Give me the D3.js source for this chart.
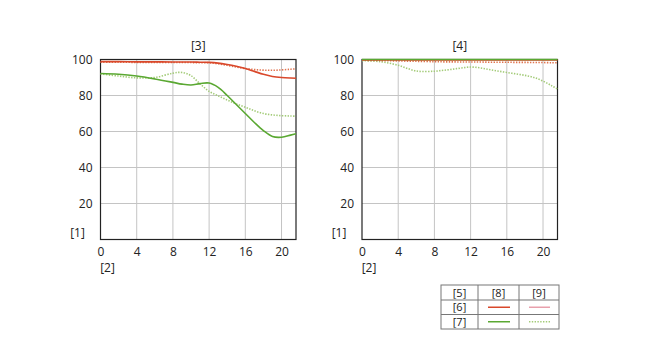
<!DOCTYPE html>
<html>
<head>
<meta charset="utf-8">
<script src="https://cdn.jsdelivr.net/npm/d3@7"></script>
<style>
  body { margin: 0; background: #fff; }
  svg text { font-family: "Open Sans", sans-serif; font-size: 12px; fill: #222; }
</style>
</head>
<body>
<svg id="chart" width="650" height="350"></svg>
<script>
// image height positions (mm)
var field = [0, 2, 4, 6, 8, 9, 10, 11, 12, 13, 14, 15, 16, 17, 18, 19, 20, 21, 21.6];
var xTicks = [0, 4, 8, 12, 16, 20];
var yTicks = [20, 40, 60, 80, 100];

// left panel [3]
var leftRedSolid  = [98.8, 98.8, 98.7, 98.7, 98.6, 98.6, 98.6, 98.5, 98.4, 98.0, 97.2, 96.2, 95.0, 93.4, 91.8, 90.6, 90.0, 89.7, 89.6];
var leftRedDot    = [98.5, 98.5, 98.4, 98.4, 98.3, 98.3, 98.3, 98.2, 98.2, 97.6, 96.8, 95.8, 95.0, 94.4, 94.1, 94.0, 94.2, 94.6, 94.8];
var leftGreenSolid = [92.2, 91.8, 90.8, 89.2, 87.3, 86.3, 85.8, 86.6, 86.9, 84.5, 80.0, 75.0, 70.0, 65.0, 60.5, 57.2, 56.8, 58.0, 58.8];
var leftGreenDot  = [92.0, 90.8, 89.8, 90.0, 92.4, 92.8, 91.0, 86.5, 82.3, 79.8, 77.5, 75.3, 73.5, 71.5, 70.0, 69.2, 68.8, 68.6, 68.5];

// right panel [4]
var rightRedSolid  = [99.7, 99.7, 99.7, 99.7, 99.7, 99.7, 99.7, 99.7, 99.7, 99.7, 99.7, 99.7, 99.7, 99.7, 99.7, 99.7, 99.7, 99.7, 99.7];
var rightRedDot    = [99.6, 99.4, 99.2, 99.0, 98.8, 98.7, 98.7, 98.6, 98.6, 98.6, 98.5, 98.5, 98.5, 98.4, 98.4, 98.3, 98.3, 98.2, 98.2];
var rightGreenSolid = [100, 100, 100, 100, 100, 100, 100, 100, 100, 100, 100, 100, 100, 100, 100, 100, 100, 100, 100];
var rightGreenDot  = [99.4, 98.8, 96.8, 93.6, 93.5, 94.0, 94.6, 95.3, 95.8, 95.4, 94.5, 93.6, 92.8, 92.0, 91.2, 90.0, 88.0, 85.3, 83.6];

var legendRows = ["[6]", "[7]"];
var legendCols = ["[5]", "[8]", "[9]"];

var red = "#d9482b", redDot = "#e0734f", green = "#5aa832", greenDot = "#a3cb78";

var svg = d3.select("#chart");

var panels = [
  { title: "[3]", left: 100.5, series: [
    { v: leftGreenDot, c: greenDot, dash: true },
    { v: leftRedDot, c: redDot, dash: true },
    { v: leftGreenSolid, c: green },
    { v: leftRedSolid, c: red }
  ]},
  { title: "[4]", left: 362, series: [
    { v: rightGreenDot, c: greenDot, dash: true },
    { v: rightRedDot, c: redDot, dash: true },
    { v: rightRedSolid, c: red },
    { v: rightGreenSolid, c: green }
  ]}
];

var W = 195.5, plotTop = 59.5, H = 180;

panels.forEach(function(p) {
  var x = d3.scaleLinear().domain([0, 21.6]).range([p.left, p.left + W]);
  var y = d3.scaleLinear().domain([0, 100]).range([plotTop + H, plotTop]);
  var g = svg.append("g");

  // grid
  g.selectAll(".vg").data(xTicks.slice(1)).enter().append("line")
    .attr("x1", function(d) { return x(d); }).attr("x2", function(d) { return x(d); })
    .attr("y1", plotTop).attr("y2", plotTop + H)
    .attr("stroke", "#c4c4c4").attr("stroke-width", 1);
  g.selectAll(".hg").data(yTicks).enter().append("line")
    .attr("x1", p.left).attr("x2", p.left + W)
    .attr("y1", function(d) { return y(d); }).attr("y2", function(d) { return y(d); })
    .attr("stroke", "#c4c4c4").attr("stroke-width", 1);

  // axes labels
  var xAxis = d3.axisBottom(x).tickValues(xTicks).tickSize(0).tickPadding(8);
  g.append("g").attr("transform", "translate(0," + (plotTop + H) + ")").call(xAxis)
    .call(function(a) { a.select(".domain").remove(); })
    .selectAll("text").style("font-size", "12px").attr("fill", "#222");
  var yAxis = d3.axisLeft(y).tickValues(yTicks).tickSize(0).tickPadding(8);
  g.append("g").attr("transform", "translate(" + p.left + ",0)").call(yAxis)
    .call(function(a) { a.select(".domain").remove(); })
    .selectAll("text").style("font-size", "12px").attr("fill", "#222");

  // frame
  g.append("rect").attr("x", p.left).attr("y", plotTop).attr("width", W).attr("height", H)
    .attr("fill", "none").attr("stroke", "#222").attr("stroke-width", 1.2);

  var line = d3.line()
    .x(function(d, i) { return x(field[i]); })
    .y(function(d) { return y(d); })
    .curve(d3.curveCatmullRom.alpha(0.5));

  p.series.forEach(function(s) {
    g.append("path").attr("d", line(s.v))
      .attr("fill", "none").attr("stroke", s.c)
      .attr("stroke-width", 1.6)
      .attr("stroke-dasharray", s.dash ? "1.4,1.4" : null);
  });

  g.append("text").attr("x", p.left + W / 2).attr("y", 50).attr("text-anchor", "middle").text(p.title);
  g.append("text").attr("x", p.left - 23).attr("y", 237).attr("text-anchor", "middle").text("[1]");
  g.append("text").attr("x", p.left + 7).attr("y", 272).attr("text-anchor", "middle").text("[2]");
});

// legend table
var tx = [441, 478, 519, 559], ty = [285, 300, 314.5, 329];
var lg = svg.append("g");
lg.append("rect").attr("x", tx[0]).attr("y", ty[0]).attr("width", tx[3] - tx[0]).attr("height", ty[3] - ty[0])
  .attr("fill", "none").attr("stroke", "#777").attr("stroke-width", 1);
[1, 2].forEach(function(i) {
  lg.append("line").attr("x1", tx[i]).attr("x2", tx[i]).attr("y1", ty[0]).attr("y2", ty[3]).attr("stroke", "#777");
  lg.append("line").attr("x1", tx[0]).attr("x2", tx[3]).attr("y1", ty[i]).attr("y2", ty[i]).attr("stroke", "#777");
});
legendCols.forEach(function(t, i) {
  lg.append("text").attr("x", (tx[i] + tx[i + 1]) / 2).attr("y", ty[1] - 3.5)
    .attr("text-anchor", "middle").style("font-size", "11px").attr("fill", "#555").text(t);
});
legendRows.forEach(function(t, i) {
  lg.append("text").attr("x", (tx[0] + tx[1]) / 2).attr("y", ty[i + 2] - 3.5)
    .attr("text-anchor", "middle").style("font-size", "11px").attr("fill", "#555").text(t);
});
var legendSwatches = [
  [{ c: red }, { c: "#e8a0ac" }],
  [{ c: green }, { c: greenDot, dash: true }]
];
legendSwatches.forEach(function(row, r) {
  row.forEach(function(s, k) {
    var cy = (ty[r + 1] + ty[r + 2]) / 2;
    lg.append("line").attr("x1", tx[k + 1] + 10).attr("x2", tx[k + 2] - 9)
      .attr("y1", cy).attr("y2", cy).attr("stroke", s.c).attr("stroke-width", 1.5)
      .attr("stroke-dasharray", s.dash ? "1.4,1.4" : null);
  });
});
</script>
</body>
</html>
